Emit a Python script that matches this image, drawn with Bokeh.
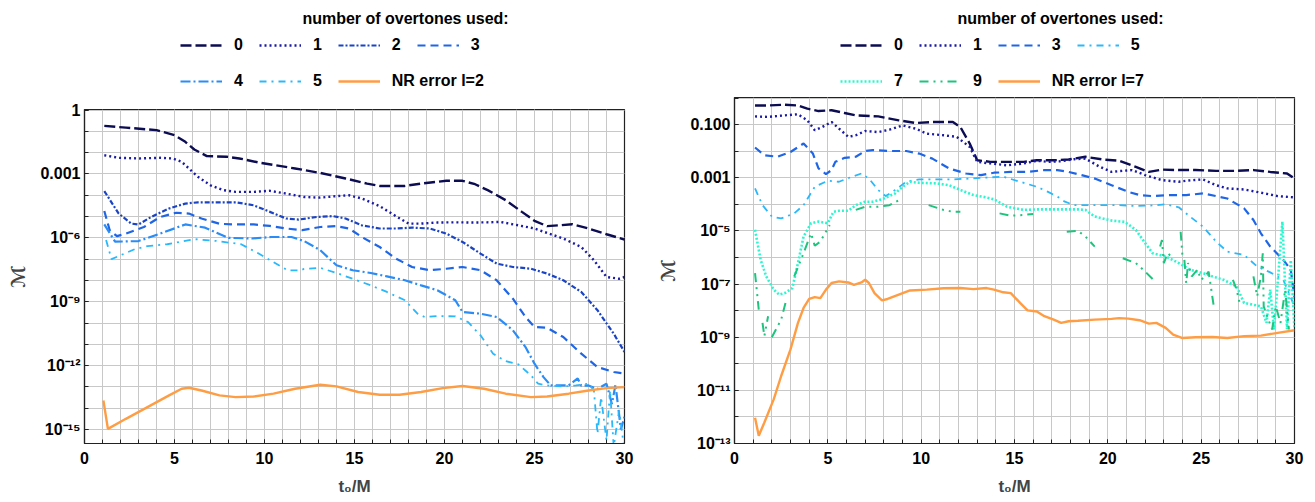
import math
from bokeh.plotting import figure
from bokeh.models import (Range1d, FixedTicker, CustomJSTickFormatter, Legend,
                          LegendItem, Label)
from bokeh.layouts import row, column
from bokeh.embed import file_html
from bokeh.resources import INLINE

NaN = float("nan")

# ------------------------------------------------------------------
# Left panel (l = 2): mismatch vs t0/M for different overtone numbers
# ------------------------------------------------------------------
L_t_0 = [1.1, 2.3, 4.0, 5.0, 5.6, 6.1, 6.8, 7.9, 8.6, 9.8, 11.7, 13.1, 14.5, 15.7, 16.4,
         17.8, 18.7, 20.1, 21.0, 21.7, 22.4, 23.4, 24.3, 25.0, 25.7, 26.4, 27.1, 28.0, 29.0, 30.0]
L_M_0 = [1.82e-1, 1.51e-1, 1.15e-1, 6.61e-2, 3.24e-2, 1.41e-2, 6.92e-3, 6.46e-3, 5.37e-3, 3.31e-3,
         1.82e-3, 1.12e-3, 6.17e-4, 3.55e-4, 2.75e-4, 2.75e-4, 3.55e-4, 4.79e-4, 4.79e-4, 3.31e-4,
         1.74e-4, 5.89e-5, 1.66e-5, 6.31e-6, 3.55e-6, 3.89e-6, 4.37e-6, 2.75e-6, 1.48e-6, 8.32e-7]

L_t_1 = [1.1, 1.9, 3.0, 4.2, 4.9, 5.4, 5.8, 6.3, 7.0, 7.7, 8.4, 9.4, 10.3, 11.2, 12.2, 13.1,
         14.0, 14.7, 15.4, 16.4, 17.3, 18.0, 18.7, 19.6, 20.6, 21.5, 22.4, 23.1, 24.1, 25.0,
         25.7, 26.6, 27.6, 28.3, 29.0, 29.7, 30.0]
L_M_1 = [7.59e-3, 5.75e-3, 5.37e-3, 5.75e-3, 5.37e-3, 3.72e-3, 1.82e-3, 7.41e-4, 2.95e-4, 1.74e-4,
         1.45e-4, 1.45e-4, 1.62e-4, 1.20e-4, 8.32e-5, 7.76e-5, 9.12e-5, 1.00e-4, 7.08e-5, 3.09e-5,
         1.05e-5, 4.68e-6, 4.68e-6, 5.25e-6, 5.37e-6, 5.25e-6, 5.37e-6, 5.62e-6, 3.89e-6, 2.75e-6,
         1.70e-6, 9.33e-7, 3.72e-7, 8.91e-8, 1.45e-8, 1.20e-8, 1.45e-8]

L_t_2 = [1.1, 1.9, 2.6, 3.0, 3.7, 4.7, 5.6, 6.3, 7.5, 8.4, 9.4, 10.3, 11.2, 11.9, 12.9, 13.8,
         14.5, 15.4, 16.4, 17.3, 18.2, 19.2, 20.1, 21.0, 22.0, 22.9, 23.8, 24.8, 25.7, 26.6,
         27.6, 28.5, 29.4, 30.0]
L_M_2 = [1.58e-4, 1.38e-5, 4.68e-6, 4.27e-6, 9.55e-6, 2.40e-5, 4.07e-5, 4.68e-5, 4.68e-5, 4.68e-5,
         3.39e-5, 1.66e-5, 8.13e-6, 7.24e-6, 9.55e-6, 1.05e-5, 8.13e-6, 3.89e-6, 2.75e-6, 2.75e-6,
         3.02e-6, 2.75e-6, 1.58e-6, 6.46e-7, 1.82e-7, 6.17e-8, 4.27e-8, 3.55e-8, 2.09e-8, 1.02e-8,
         2.88e-9, 3.98e-10, 3.16e-11, 4.37e-12]

L_t_3 = [1.1, 1.4, 1.8, 2.3, 3.3, 4.2, 5.1, 5.8, 6.5, 7.5, 8.4, 9.4, 10.3, 11.2, 12.1, 13.1,
         14.0, 14.7, 15.4, 16.4, 17.3, 18.2, 19.2, 20.1, 21.0, 22.0, 22.9, 23.8, 24.5, 25.0,
         25.7, 26.6, 27.6, 28.5, 29.4, 30.0]
L_M_3 = [1.82e-5, 2.29e-6, 1.20e-6, 1.58e-6, 3.24e-6, 9.55e-6, 1.51e-5, 1.38e-5, 8.13e-6, 4.57e-6,
         4.27e-6, 4.27e-6, 3.63e-6, 2.75e-6, 2.29e-6, 3.24e-6, 3.55e-6, 2.75e-6, 1.10e-6, 3.72e-7,
         1.07e-7, 4.27e-8, 3.02e-8, 3.55e-8, 4.27e-8, 3.02e-8, 1.02e-8, 1.38e-9, 1.91e-10, 6.46e-11,
         6.03e-11, 2.19e-11, 3.63e-12, 8.51e-13, 5.01e-13, 4.17e-13]

L_t_4 = [1.1, 1.7, 3.0, 4.2, 5.6, 6.7, 8.0, 9.3, 10.4, 11.5, 12.2, 13.1, 14.0, 14.9, 15.9,
         16.8, 17.8, 18.7, 19.6, 20.6, 21.0, 22.0, 22.9, 23.8, 24.5, 25.0, 25.5, 25.9, 26.9,
         27.4, 27.6, 28.0, 28.5, 29.0, 29.3, 29.5, 29.8, 30.0]
L_M_4 = [4.27e-6, 6.61e-7, 7.08e-7, 1.58e-6, 4.27e-6, 3.02e-6, 1.00e-6, 9.33e-7, 1.10e-6, 1.10e-6,
         7.08e-7, 2.63e-7, 5.13e-8, 3.02e-8, 2.24e-8, 1.55e-8, 1.02e-8, 5.89e-9, 3.47e-9, 1.17e-9,
         3.31e-10, 2.75e-10, 1.91e-10, 4.57e-11, 7.41e-12, 1.23e-12, 2.88e-13, 1.17e-13, 1.17e-13,
         2.51e-13, 1.12e-13, 1.17e-13, 7.94e-14, 1.41e-13, 1.58e-14, 1.26e-13, 1.00e-15, 3.98e-15]

L_t_5 = [1.2, 1.5, 2.8, 3.5, 4.6, 6.1, 7.4, 8.7, 9.6, 10.4, 10.8, 11.3, 12.0, 12.2, 13.1, 14.0,
         14.9, 15.9, 16.8, 17.8, 18.5, 18.9, 19.6, 20.6, 21.3, 22.0, 22.7, 23.4, 24.1, 24.8,
         25.2, 25.7, 26.6, 27.3, 28.0, 28.3, 28.5, 28.7, 29.0, 29.2, 29.4, 29.7, 30.0]
L_M_5 = [7.94e-7, 1.00e-7, 2.95e-7, 4.07e-7, 5.01e-7, 8.71e-7, 7.08e-7, 5.01e-7, 2.00e-7, 8.13e-8,
         5.13e-8, 2.95e-8, 2.95e-8, 3.47e-8, 3.89e-8, 2.24e-8, 1.20e-8, 5.89e-9, 2.88e-9, 1.17e-9,
         2.75e-10, 1.91e-10, 2.14e-10, 2.04e-10, 1.12e-10, 2.63e-11, 3.63e-12, 1.62e-12, 1.15e-12,
         3.47e-13, 1.41e-13, 1.17e-13, 1.05e-13, 1.17e-13, 1.41e-13, 6.76e-14, 6.31e-16, 3.31e-14,
         3.02e-16, 6.76e-14, 1.58e-16, 7.76e-15, 1.00e-16]

L_t_nr = [1.05, 1.3, 2.3, 3.5, 4.7, 5.4, 5.8, 6.5, 7.5, 8.4, 9.4, 10.5, 11.7, 13.1, 14.0, 15.2,
          16.4, 17.5, 18.7, 19.9, 21.0, 22.2, 23.4, 24.8, 25.7, 26.9, 28.0, 29.0, 30.0]
L_M_nr = [2.29e-14, 1.07e-15, 3.16e-15, 1.12e-14, 3.98e-14, 8.13e-14, 9.12e-14, 6.76e-14, 3.98e-14,
          3.31e-14, 3.55e-14, 4.79e-14, 8.13e-14, 1.26e-13, 1.05e-13, 5.75e-14, 4.27e-14, 4.27e-14,
          5.75e-14, 8.71e-14, 1.10e-13, 8.13e-14, 4.79e-14, 3.31e-14, 3.55e-14, 4.79e-14, 6.76e-14,
          8.71e-14, 9.77e-14]

# ------------------------------------------------------------------
# Right panel (l = 7)
# ------------------------------------------------------------------
R_t_0 = [1.1, 1.8, 2.7, 3.4, 3.9, 4.5, 5.2, 5.9, 6.5, 7.7, 8.8, 9.7, 10.6, 11.7, 12.1, 12.6, 13.0,
         13.7, 14.6, 15.5, 16.2, 17.1, 17.9, 18.8, 19.7, 20.6, 21.5, 22.2, 22.9, 23.8, 24.7, 25.8,
         26.9, 27.8, 28.7, 29.6, 30.0]
R_M_0 = [5.25e-1, 5.25e-1, 5.62e-1, 5.25e-1, 3.98e-1, 3.24e-1, 3.47e-1, 2.75e-1, 2.24e-1, 2.04e-1,
         1.45e-1, 1.15e-1, 1.26e-1, 1.26e-1, 8.13e-2, 1.95e-2, 4.57e-3, 3.98e-3, 3.98e-3, 3.98e-3,
         4.57e-3, 4.57e-3, 4.90e-3, 6.17e-3, 4.90e-3, 4.37e-3, 2.57e-3, 1.66e-3, 2.04e-3, 1.95e-3,
         1.95e-3, 1.82e-3, 1.82e-3, 1.95e-3, 1.66e-3, 1.45e-3, 9.33e-4]

R_t_1 = [1.1, 1.8, 2.7, 3.4, 3.9, 4.3, 4.7, 5.2, 5.6, 6.1, 6.5, 7.0, 7.7, 8.3, 9.0, 9.7, 10.3,
         11.2, 11.9, 12.6, 13.0, 13.7, 14.6, 15.5, 16.2, 16.8, 17.5, 18.2, 18.8, 19.5, 20.2,
         20.6, 21.3, 22.0, 22.9, 23.8, 24.2, 25.1, 25.8, 26.4, 27.3, 28.2, 29.1, 30.0]
R_M_1 = [2.04e-1, 1.95e-1, 2.24e-1, 2.45e-1, 1.45e-1, 6.17e-2, 8.13e-2, 1.26e-1, 7.08e-2, 3.47e-2,
         3.98e-2, 5.75e-2, 5.25e-2, 6.46e-2, 9.33e-2, 7.08e-2, 4.57e-2, 3.98e-2, 3.47e-2, 1.45e-2,
         3.98e-3, 3.47e-3, 2.95e-3, 3.47e-3, 4.37e-3, 3.98e-3, 4.17e-3, 5.01e-3, 5.25e-3, 2.75e-3,
         1.66e-3, 1.78e-3, 1.95e-3, 1.26e-3, 8.13e-4, 7.08e-4, 7.76e-4, 8.71e-4, 5.25e-4, 3.98e-4,
         3.63e-4, 2.75e-4, 2.04e-4, 1.82e-4]

R_t_3 = [1.1, 1.6, 2.3, 3.0, 3.7, 4.2, 4.5, 4.9, 5.2, 5.4, 5.9, 6.5, 7.0, 7.4, 8.3, 9.2, 9.9,
         10.6, 11.5, 12.4, 13.2, 13.9, 14.8, 15.7, 16.6, 17.3, 17.9, 18.6, 19.3, 20.2, 21.1,
         21.7, 22.4, 23.3, 24.2, 25.1, 25.8, 26.4, 27.3, 27.8, 28.2, 28.7, 29.4, 29.8, 30.0]
R_M_3 = [1.38e-2, 7.08e-3, 6.17e-3, 9.33e-3, 1.95e-2, 8.13e-3, 2.24e-3, 1.38e-3, 1.95e-3, 3.98e-3,
         5.62e-3, 6.17e-3, 1.02e-2, 1.10e-2, 1.02e-2, 1.02e-2, 8.13e-3, 5.25e-3, 2.24e-3, 1.45e-3,
         1.26e-3, 1.55e-3, 1.66e-3, 1.66e-3, 1.95e-3, 1.95e-3, 1.66e-3, 1.26e-3, 9.33e-4, 5.25e-4,
         2.95e-4, 2.24e-4, 2.04e-4, 2.24e-4, 2.24e-4, 2.57e-4, 2.04e-4, 1.66e-4, 7.08e-5, 2.57e-5,
         8.13e-6, 2.57e-6, 8.13e-7, 3.47e-7, 3.16e-8]

R_t_5 = [1.1, 1.5, 2.0, 2.5, 3.2, 3.7, 4.3, 5.0, 5.6, 6.3, 6.8, 7.2, 7.7, 8.1, 8.6, 9.2, 9.9,
         10.8, 11.7, 12.6, 13.5, 14.4, 15.3, 16.2, 16.8, 17.3, 17.7, 18.2, 18.8, 19.7, 20.6,
         21.5, 22.4, 23.1, 23.8, 24.4, 25.1, 25.8, 26.4, 27.3, 28.0, 28.7, 29.4, 30.0]
R_M_5 = [3.98e-4, 9.33e-5, 3.47e-5, 2.95e-5, 4.57e-5, 9.33e-5, 4.57e-4, 7.76e-4, 7.08e-4, 1.10e-3,
         1.45e-3, 9.33e-4, 3.47e-4, 2.04e-4, 3.47e-4, 7.08e-4, 8.71e-4, 8.71e-4, 8.71e-4, 9.33e-4,
         1.02e-3, 1.10e-3, 7.08e-4, 4.57e-4, 2.95e-4, 1.95e-4, 1.26e-4, 9.33e-5, 9.33e-5, 9.33e-5,
         9.33e-5, 8.71e-5, 9.12e-5, 1.00e-4, 7.76e-5, 3.47e-5, 1.45e-5, 3.98e-6, 1.66e-6, 1.26e-6,
         4.57e-7, 2.75e-7, 1.45e-7, 1.45e-8]

R_t_7 = [1.1, 1.4, 1.7, 2.1, 2.4, 2.7, 3.1, 3.4, 3.7, 4.1, 4.5, 5.0, 5.3, 5.6, 6.1, 6.5, 7.0,
         7.4, 7.9, 8.6, 9.0, 9.4, 9.9, 10.8, 11.5, 12.1, 12.8, 13.5, 13.9, 14.6, 15.5, 16.2,
         16.8, 17.5, 18.4, 18.8, 19.3, 20.2, 20.9, 21.5, 22.0, 22.4, 23.1, 23.8, 24.4, 25.1,
         25.6, 26.2, 26.9, 27.3, 27.8, 28.2, 28.5, 28.7, 28.9, 29.1, 29.35, 29.6, 29.8, 30.0]
R_M_7 = [1.10e-5, 8.13e-7, 1.95e-7, 6.17e-8, 3.98e-8, 4.57e-8, 7.08e-8, 6.17e-7, 6.17e-6, 1.95e-5,
         2.24e-5, 1.95e-5, 5.25e-5, 5.75e-5, 5.75e-5, 9.33e-5, 1.26e-4, 1.26e-4, 1.55e-4, 2.57e-4,
         4.57e-4, 7.08e-4, 6.46e-4, 6.17e-4, 5.25e-4, 3.47e-4, 2.24e-4, 1.82e-4, 1.55e-4, 8.13e-5,
         6.17e-5, 6.46e-5, 6.46e-5, 6.46e-5, 6.46e-5, 6.17e-5, 3.47e-5, 2.45e-5, 2.19e-5, 1.10e-5,
         3.47e-6, 1.45e-6, 1.10e-6, 6.17e-7, 3.47e-7, 2.57e-7, 1.95e-7, 1.45e-7, 8.13e-8, 1.95e-8,
         1.66e-8, 1.45e-8, 3.47e-9, 6.17e-8, 1.95e-9, 1.10e-7, 2.24e-5, 2.00e-9, 7.94e-7, 2.00e-9]

# broken (gappy) curve: NaN separates the visible pieces
R_t_9 = [1.1, 1.3, NaN, 1.5, 1.6, 1.8, NaN, 2.0, 2.5, 2.8, NaN,
         3.2, 3.7, 4.1, 4.3, 4.6, 5.1, NaN, 6.5, 7.0, 7.7, 8.3, 8.9, NaN,
         10.4, 11.2, 11.7, 12.1, NaN, 14.2, 14.8, 15.5, 16.0, NaN,
         17.8, 18.4, 18.8, 19.3, NaN, 20.8, 21.5, 22.0, 22.4, NaN,
         22.8, 22.9, 23.0, 23.2, 23.4, NaN, 23.9, 24.0, NaN,
         24.1, 24.2, 24.3, 24.5, 24.8, 25.0, 25.2, 25.4, 25.7, NaN,
         26.7, 26.9, 27.1, NaN,
         27.8, 28.0, 28.2, 28.3, 28.35, 28.6, 28.8, 29.0, 29.25, 29.5, 29.7]
R_M_9 = [2.57e-7, 1.10e-8, NaN, 3.47e-9, 1.10e-9, 6.17e-9, NaN, 1.00e-9, 4.57e-9, 2.95e-8, NaN,
         1.95e-7, 1.45e-6, 8.13e-6, 2.75e-6, 3.98e-6, 1.66e-5, NaN,
         6.17e-5, 8.13e-5, 8.13e-5, 9.33e-5, 1.55e-4, NaN,
         9.33e-5, 6.17e-5, 5.25e-5, 5.25e-5, NaN, 4.57e-5, 3.72e-5, 3.98e-5, 4.37e-5, NaN,
         9.33e-6, 1.00e-5, 6.17e-6, 2.57e-6, NaN, 9.33e-7, 6.17e-7, 2.95e-7, 1.55e-7, NaN,
         2.57e-6, 4.57e-6, 6.17e-7, 1.45e-6, 1.10e-6, NaN, 9.33e-6, 1.10e-6, NaN,
         8.13e-7, 1.10e-7, 6.17e-7, 1.95e-7, 3.47e-7, 1.45e-7, 1.95e-7, 2.95e-7, 1.10e-8, NaN,
         1.45e-7, 6.17e-8, 1.45e-8, NaN,
         1.95e-7, 3.47e-8, 1.95e-7, 1.45e-6, 1.45e-8, 4.57e-9, 1.95e-9, 1.45e-8, 3.47e-9, 6.17e-8, 1.95e-9]

R_t_nr = [1.1, 1.3, 1.6, 2.1, 2.5, 3.0, 3.4, 3.7, 4.0, 4.3, 4.6, 4.9, 5.2, 5.6, 6.1, 6.4, 6.8,
          7.0, 7.2, 7.5, 7.9, 8.2, 8.8, 9.4, 10.3, 11.2, 12.1, 12.8, 13.5, 13.9, 14.4, 14.8,
          15.3, 15.7, 16.2, 16.6, 17.1, 17.5, 17.9, 18.4, 19.3, 20.2, 20.6, 21.1, 21.7, 22.2,
          22.6, 23.1, 23.5, 24.0, 24.7, 25.6, 26.4, 27.3, 28.2, 29.1, 30.0]
R_M_nr = [9.33e-13, 1.95e-13, 6.17e-13, 4.57e-12, 3.47e-11, 3.47e-10, 3.47e-9, 1.26e-8, 2.75e-8,
          3.24e-8, 2.95e-8, 6.17e-8, 1.10e-7, 1.26e-7, 1.15e-7, 9.33e-8, 1.15e-7, 1.45e-7, 1.10e-7,
          4.57e-8, 2.45e-8, 2.75e-8, 3.98e-8, 5.75e-8, 6.17e-8, 6.92e-8, 7.08e-8, 6.46e-8, 7.08e-8,
          6.17e-8, 4.90e-8, 4.57e-8, 1.95e-8, 1.02e-8, 9.33e-9, 6.17e-9, 4.57e-9, 3.47e-9, 3.98e-9,
          4.17e-9, 4.57e-9, 4.90e-9, 5.25e-9, 5.01e-9, 4.37e-9, 3.24e-9, 3.47e-9, 2.24e-9, 1.26e-9,
          9.33e-10, 1.00e-9, 1.02e-9, 9.33e-10, 1.10e-9, 1.15e-9, 1.45e-9, 1.82e-9]

# tick labels
X_TICKS = [0, 5, 10, 15, 20, 25, 30]
L_YTICKS = [1e-15, 1e-12, 1e-9, 1e-6, 1e-3, 1.0]
L_YLABELS = ["10⁻¹⁵", "10⁻¹²", "10⁻⁹", "10⁻⁶", "0.001", "1"]
R_YTICKS = [1e-13, 1e-11, 1e-9, 1e-7, 1e-5, 1e-3, 1e-1]
R_YLABELS = ["10⁻¹³", "10⁻¹¹", "10⁻⁹", "10⁻⁷", "10⁻⁵", "0.001", "0.100"]

LEGEND_TITLE = "number of overtones used:"

# styles
COL = {"0": "#0c0c52", "1": "#1a1aa6", "2": "#1a44c4", "3": "#1f66e6", "4": "#2a8cf5",
       "5": "#2ab8fa", "7": "#2cf6d0", "9": "#1cc47e", "nr": "#ff9d45"}
DASH = {"0": "11 4", "1": "2 3", "2": "5 2 2 2", "3": "8 5", "4": "10 3 2 3",
        "5": "7 5 2 5", "7": "2 2", "9": "9 5 2 5 2 5", "nr": "solid"}
WID = {"0": 2.4, "1": 2.4, "2": 2.2, "3": 2.2, "4": 2.2, "5": 1.8, "7": 2.6, "9": 2.0, "nr": 2.4}

FONT = "Liberation Sans"
LEG_H = 94
TOTAL_H = 500

TICK_JS = """
const L = Math.round(Math.log10(tick));
for (let i = 0; i < vals.length; i++) {
  if (Math.round(Math.log10(vals[i])) == L) { return labs[i]; }
}
return "";
"""


def make_legend_fig(total_w, series, leg_x, title_x):
    q = figure(frame_width=total_w, frame_height=LEG_H, min_border=0,
               x_range=Range1d(0, 1), y_range=Range1d(0, 1),
               x_axis_location=None, y_axis_location=None,
               output_backend="svg", toolbar_location=None)
    q.grid.visible = False
    q.outline_line_color = None
    q.background_fill_color = "white"
    q.border_fill_color = "white"
    items = []
    for key, label, xs, ys in series:
        # legend-only stand-in glyph (a single NaN point draws nothing in the frame)
        r = q.line(x=[NaN], y=[NaN], line_color=COL[key], line_width=WID[key],
                   line_dash=DASH[key])
        items.append(LegendItem(label=label, renderers=[r]))
    common = dict(orientation="horizontal", glyph_width=42, glyph_height=20, label_height=20,
                  label_width=0, label_standoff=12, spacing=16, padding=0, margin=0,
                  border_line_alpha=0, background_fill_alpha=0, label_text_font=FONT,
                  label_text_font_style="bold", label_text_font_size="16px",
                  label_text_color="black")
    q.add_layout(Legend(items=items[:4], location=(leg_x, LEG_H - 55), **common))
    q.add_layout(Legend(items=items[4:], location=(leg_x, LEG_H - 91), **common))
    q.add_layout(Label(x=title_x, y=LEG_H - 18, x_units="screen", y_units="screen",
                       text=LEGEND_TITLE, text_align="center", text_baseline="middle",
                       text_font=FONT, text_font_style="bold", text_font_size="16px",
                       text_color="black"))
    return q


def make_panel(y_lo, y_hi, yticks, ylabels, series, fw, fh, bl, br, bt, bb):
    p = figure(frame_width=fw, frame_height=fh, min_border_left=bl, min_border_right=br,
               min_border_top=bt, min_border_bottom=bb, y_axis_type="log",
               x_range=Range1d(0, 30), y_range=Range1d(y_lo, y_hi),
               output_backend="svg", toolbar_location=None)
    p.background_fill_color = "white"
    p.border_fill_color = "white"
    p.outline_line_color = "#222222"
    p.outline_line_width = 1.2

    p.xaxis.ticker = FixedTicker(ticks=X_TICKS, minor_ticks=list(range(0, 31)))
    lo_e = int(math.floor(math.log10(y_lo)))
    hi_e = int(math.ceil(math.log10(y_hi)))
    p.yaxis.ticker = FixedTicker(ticks=yticks,
                                 minor_ticks=[10.0 ** e for e in range(lo_e, hi_e + 1)])
    p.yaxis.formatter = CustomJSTickFormatter(args=dict(vals=yticks, labs=ylabels), code=TICK_JS)

    for ax in (p.xaxis[0], p.yaxis[0]):
        ax.axis_line_color = "#222222"
        ax.axis_line_width = 1.2
        ax.major_tick_in = 4
        ax.major_tick_out = 0
        ax.minor_tick_in = 4
        ax.minor_tick_out = 0
        ax.major_tick_line_color = "#222222"
        ax.minor_tick_line_color = "#222222"
        ax.major_label_text_font = FONT
        ax.major_label_text_font_style = "bold"
        ax.major_label_text_font_size = "16px"
        ax.major_label_text_color = "black"
    p.xaxis.major_label_standoff = 8
    p.yaxis.major_label_standoff = 4

    p.xaxis.axis_label = "t₀/M"
    p.xaxis.axis_label_text_font = FONT
    p.xaxis.axis_label_text_font_style = "bold"
    p.xaxis.axis_label_text_font_size = "17px"
    p.xaxis.axis_label_standoff = 10
    p.yaxis.axis_label = "ℳ"
    p.yaxis.axis_label_text_font = "DejaVu Sans"
    p.yaxis.axis_label_text_font_style = "bold"
    p.yaxis.axis_label_text_font_size = "19px"
    p.yaxis.axis_label_standoff = 8

    for g in (p.xgrid[0], p.ygrid[0]):
        g.grid_line_color = "#c8c8c8"
        g.grid_line_width = 1
        g.minor_grid_line_color = "#c8c8c8"
        g.minor_grid_line_width = 1

    for key, label, xs, ys in series:
        p.line(xs, ys, line_color=COL[key], line_width=WID[key], line_dash=DASH[key])
    return p


left_series = [("0", "0", L_t_0, L_M_0), ("1", "1", L_t_1, L_M_1), ("2", "2", L_t_2, L_M_2),
               ("3", "3", L_t_3, L_M_3), ("4", "4", L_t_4, L_M_4), ("5", "5", L_t_5, L_M_5),
               ("nr", "NR error l=2", L_t_nr, L_M_nr)]
right_series = [("0", "0", R_t_0, R_M_0), ("1", "1", R_t_1, R_M_1), ("3", "3", R_t_3, R_M_3),
                ("5", "5", R_t_5, R_M_5), ("7", "7", R_t_7, R_M_7), ("9", "9", R_t_9, R_M_9),
                ("nr", "NR error l=7", R_t_nr, R_M_nr)]

# reference frames (page pixels): left 84..624 x 109..443 ; right 734..1294 x 97..443
LW = 654   # left column  (page x 0..654)
RW = 656   # right column (page x 654..1310)
p1 = make_panel(2.19e-16, 1.07, L_YTICKS, L_YLABELS, left_series,
                fw=540, fh=334, bl=84, br=LW - 84 - 540, bt=109 - LEG_H, bb=TOTAL_H - 443)
p2 = make_panel(1.0e-13, 1.05, R_YTICKS, R_YLABELS, right_series,
                fw=560, fh=346, bl=80, br=RW - 80 - 560, bt=97 - LEG_H, bb=TOTAL_H - 443)
q1 = make_legend_fig(LW, left_series, leg_x=180, title_x=321)
q2 = make_legend_fig(RW, right_series, leg_x=186, title_x=326)

layout = row(column(q1, p1), column(q2, p2))
open("out.html", "w").write(file_html(layout, INLINE))
